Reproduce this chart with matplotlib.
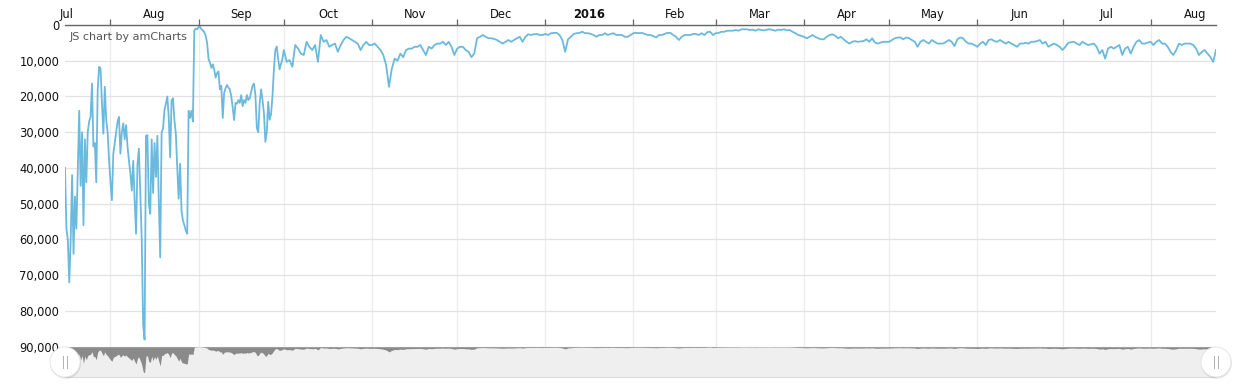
import numpy as np
import pandas as pd
import matplotlib
matplotlib.use('Agg')
import matplotlib.pyplot as plt
import matplotlib.dates as mdates
from matplotlib.patches import Circle
from matplotlib.lines import Line2D
from matplotlib.transforms import IdentityTransform

# ---------------- data ----------------
early_start = '2015-07-16'   # 12-hourly values, Jul 16 - Sep 30 2015
early_values = [
    40000, 57000, 60000, 72000, 60000, 42000, 64000, 48000, 57000, 40000,
    24000, 45000, 30000, 56000, 32000, 44000, 30000, 27000, 25700, 16400,
    34000, 33000, 44000, 18200, 11700, 12100, 22000, 30400, 17300, 26600,
    30000, 37800, 44000, 49000, 36000, 33000, 30000, 27000, 25700, 36000,
    30000, 27500, 32000, 28000, 34000, 38000, 41500, 46300, 38000, 49000,
    58400, 39000, 34600, 47000, 60000, 84000, 88000, 31000, 30800, 50000,
    52800, 32000, 47000, 33000, 42500, 31000, 49000, 65000, 30000, 29000,
    23800, 22000, 20000, 25700, 37000, 21000, 20500, 26600, 30400, 40000,
    48600, 38800, 52000, 54700, 56000, 57500, 58400, 24000, 26000, 24000,
    27000, 1500, 1000, 1200, 600, 500, 1200, 1500, 2000, 3000,
    5000, 9500, 10500, 12000, 11000, 12500, 14700, 13500, 13000, 18000,
    17000, 26000, 19000, 17700, 16800, 17500, 18000, 20000, 23000, 26600,
    21800, 22000, 21000, 21800, 19600, 22700, 21000, 21800, 19600, 21000,
    20500, 18700, 17000, 16400, 19600, 28800, 30000, 22000, 18000, 21000,
    24700, 32700, 30000, 21500, 26500, 25000, 20000, 12500, 7000, 6000,
    9500, 12400, 11000, 9500,
]

daily_start = '2015-10-01'   # daily values, Oct 1 2015 - Aug 24 2016
daily_values = [
    7000, 10300, 9800, 11700, 5600, 6600, 8000, 8400, 4700, 6100,
    7000, 5600, 10300, 2800, 4700, 4200, 6100, 5600, 5200, 7500,
    5600, 4200, 3300, 3700, 4200, 4700, 5200, 7000, 5600, 4700,
    5600, 5600, 5200, 6100, 7000, 8400, 11200, 17300, 12200, 9400,
    10000, 8000, 9000, 7000, 6600, 6600, 6100, 6100, 5600, 7000,
    8400, 6100, 6600, 5600, 5200, 5200, 4700, 5600, 4700, 6100,
    8400, 6600, 6100, 6100, 7000, 7500, 9000, 8000, 3700, 3300,
    2800, 3300, 3700, 3700, 3900, 4200, 4700, 5200, 4700, 4200,
    4700, 4200, 3700, 3300, 4700, 3300, 2600, 2800, 2600, 2500,
    2800, 2800, 2500, 2800, 2300, 2200, 2200, 2800, 4200, 7500,
    4000, 3300, 2500, 2300, 2200, 1900, 2300, 2300, 2500, 2800,
    3300, 2800, 2800, 2300, 2800, 2500, 2300, 2800, 2800, 2800,
    3300, 3300, 2800, 2300, 2200, 2300, 2200, 2500, 2800, 2800,
    3100, 3500, 2800, 2800, 2500, 2200, 2200, 2800, 3300, 4200,
    3300, 2800, 2800, 2800, 2500, 2500, 2800, 2300, 2800, 2000,
    1900, 2800, 2300, 2200, 1900, 1900, 1600, 1600, 1600, 1400,
    1600, 1200, 1200, 1200, 1400, 1300, 1600, 1200, 1400, 1500,
    1300, 1200, 1400, 1600, 1300, 1400, 1200, 1500, 1400, 1900,
    2300, 2800, 3000, 3300, 3700, 3300, 2800, 3300, 3700, 4000,
    4000, 3300, 2800, 2600, 3000, 3700, 3300, 4000, 4700, 5200,
    4700, 4500, 4700, 4600, 4500, 4000, 4700, 3700, 4900, 5200,
    4900, 4700, 4700, 4700, 4200, 3700, 3500, 3500, 4000, 3500,
    3700, 4200, 4700, 6100, 4700, 4200, 4700, 5200, 4200, 4700,
    5200, 5200, 5200, 4700, 4200, 4700, 5900, 4000, 3500, 3700,
    4700, 5200, 5200, 5600, 6100, 5200, 4700, 5600, 4200, 4000,
    4500, 4700, 4200, 4700, 5200, 4700, 5200, 5600, 6100, 5200,
    5200, 5000, 5200, 4700, 4700, 4500, 4200, 5200, 4700, 6100,
    5600, 5200, 5600, 6100, 7000, 6100, 5000, 4800, 4700, 5200,
    5600, 4700, 5200, 5600, 5400, 5200, 6100, 8000, 7000, 9400,
    6600, 6100, 6600, 6100, 5600, 8400, 6600, 6100, 8000, 6100,
    4700, 4200, 5200, 5200, 4900, 4700, 5600, 4700, 4200, 5200,
    5200, 6100, 7500, 8400, 7000, 5200, 5600, 5200, 5200, 5200,
    5600, 6600, 8400, 7500, 7000, 8000, 8900, 10300, 7000,
]

month_labels = ['Jul', 'Aug', 'Sep', 'Oct', 'Nov', 'Dec', '2016',
                'Feb', 'Mar', 'Apr', 'May', 'Jun', 'Jul', 'Aug']
y_ticks = [0, 10000, 20000, 30000, 40000, 50000, 60000, 70000, 80000, 90000]

# ---------------- build ----------------
early_dates = pd.date_range(early_start, periods=len(early_values), freq='12h')
daily_dates = pd.date_range(daily_start, periods=len(daily_values), freq='D')
dates = early_dates.append(daily_dates)
values = np.array(early_values + daily_values, dtype=float)

W, H = 1241, 387
fig = plt.figure(figsize=(W / 100, H / 100), dpi=100)
fig.patch.set_facecolor('white')

L, R = 65, 1216
TOP, BOT = 25, 346.7
SB_BOT = 377.3

ax = fig.add_axes([L / W, 1 - BOT / H, (R - L) / W, (BOT - TOP) / H])
ax.plot(dates, values, color='#6cb9de', lw=1.3, solid_joinstyle='round')
xmin, xmax = dates[0], dates[-1]
ax.set_xlim(xmin, xmax)
ax.set_ylim(90000, 0)

# y axis
ax.set_yticks(y_ticks)
ax.set_yticklabels([f'{v:,}' for v in y_ticks], fontsize=8.3, color='#111')
ax.tick_params(axis='y', length=0, pad=4)
ax.grid(axis='y', color='#e2e2e2', lw=0.9)

# x axis on top: ticks at month starts
month_starts = pd.date_range('2015-08-01', '2016-08-01', freq='MS')
ax.xaxis.tick_top()
ax.set_xticks(month_starts)
ax.set_xticklabels([''] * len(month_starts))
ax.tick_params(axis='x', length=4, width=0.9, color='#666', direction='out')
ax.grid(axis='x', color='#ececec', lw=0.9)
ax.set_axisbelow(True)

# month labels centered on full months
all_months = pd.date_range('2015-07-01', periods=len(month_labels) + 1, freq='MS')
for i, lab in enumerate(month_labels):
    c = all_months[i] + (all_months[i + 1] - all_months[i]) / 2
    ax.annotate(lab, xy=(mdates.date2num(c), 1), xycoords=('data', 'axes fraction'),
                xytext=(0, 5.2), textcoords='offset points', ha='center', va='baseline',
                fontsize=8.3, color='#111', fontweight='bold' if lab == '2016' else 'normal',
                annotation_clip=False)

for s in ['left', 'right', 'bottom']:
    ax.spines[s].set_visible(False)
ax.spines['top'].set_color('#666')
ax.spines['top'].set_linewidth(1.0)

ax.annotate('JS chart by amCharts', xy=(0, 1), xycoords='axes fraction',
            xytext=(3.5, -8.8), textcoords='offset points', ha='left', va='center',
            fontsize=8, color='#555')

# ---------------- scrollbar ----------------
sb = fig.add_axes([L / W, 1 - SB_BOT / H, (R - L) / W, (SB_BOT - BOT) / H])
sb.set_facecolor('#efefef')
sb.fill_between(dates, 0, values, color='#8a8a8a', lw=0)
sb.set_xlim(xmin, xmax)
sb.set_ylim(103000, 0)
sb.set_xticks([])
sb.set_yticks([])
for s in ['left', 'right', 'top']:
    sb.spines[s].set_visible(False)
sb.spines['bottom'].set_color('#dcdcdc')
sb.spines['bottom'].set_linewidth(0.8)

# handles
for hx in (L, R):
    cy = H - 362
    fig.add_artist(Circle((hx + 0.5, cy - 1.2), 15.5, transform=IdentityTransform(),
                          facecolor='#000000', alpha=0.10, edgecolor='none', zorder=10))
    fig.add_artist(Circle((hx, cy), 15, transform=IdentityTransform(),
                          facecolor='white', edgecolor='#e4e4e4', lw=0.6, zorder=11))
    for dx in (-1.6, 1.6):
        fig.add_artist(Line2D([hx + dx, hx + dx], [cy - 6, cy + 6], transform=IdentityTransform(),
                              color='#b0b0b0', lw=0.7, zorder=12))

fig.savefig('out.png', dpi=100)
